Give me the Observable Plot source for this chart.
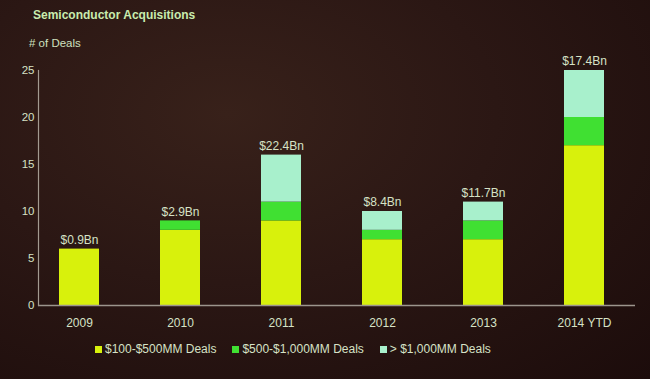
<!DOCTYPE html>
<html>
<head>
<meta charset="utf-8">
<script src="https://cdn.jsdelivr.net/npm/d3@7"></script>
<script src="https://cdn.jsdelivr.net/npm/@observablehq/plot@0.6"></script>
<style>
  html, body { margin: 0; padding: 0; }
  body {
    width: 650px; height: 379px; overflow: hidden; position: relative;
    background: radial-gradient(ellipse at 35% 30%, #38211a 0%, #2b1714 45%, #1c0c0b 100%);
    font-family: "Liberation Sans", Arial, sans-serif;
    color: #d6e2c6;
  }
  #title { position: absolute; left: 33px; top: 8px; font-size: 12px; font-weight: bold; color: #c9ecae; }
  #ylabel { position: absolute; left: 29px; top: 37px; font-size: 11.5px; color: #cfe0bf; }
  #chart { position: absolute; left: 0; top: 30px; }
  #legend { position: absolute; left: 95px; top: 342px; display: flex; font-size: 12px; color: #d6e2c6; }
  .item { display: flex; align-items: center; margin-right: 16px; }
  .sw { width: 7px; height: 7px; margin-right: 3px; }
</style>
</head>
<body>
<div id="title">Semiconductor Acquisitions</div>
<div id="ylabel"># of Deals</div>
<div id="chart"></div>
<div id="legend"></div>
<script>
const years = ["2009", "2010", "2011", "2012", "2013", "2014 YTD"];
const smallDeals = [6, 8, 9, 7, 7, 17];   // $100-$500MM
const midDeals = [0, 1, 2, 1, 2, 3];      // $500-$1,000MM
const largeDeals = [0, 0, 5, 2, 2, 5];    // > $1,000MM
const totalValue = ["$0.9Bn", "$2.9Bn", "$22.4Bn", "$8.4Bn", "$11.7Bn", "$17.4Bn"];
const categories = ["$100-$500MM Deals", "$500-$1,000MM Deals", "> $1,000MM Deals"];
const colors = ["#d8f10c", "#40e032", "#a8f0cc"];
const yTicks = [0, 5, 10, 15, 20, 25];

const series = [smallDeals, midDeals, largeDeals];
const rows = years.flatMap((yr, i) => categories.map((c, k) => ({year: yr, cat: c, n: series[k][i]})));
const totals = years.map((yr, i) => ({year: yr, total: smallDeals[i] + midDeals[i] + largeDeals[i], label: totalValue[i]}));

const textColor = "#d6e2c6";

const chart = Plot.plot({
  width: 650,
  height: 305,
  marginTop: 40,
  marginBottom: 30,
  marginLeft: 38,
  marginRight: 15,
  style: {background: "transparent", color: textColor, fontFamily: "Liberation Sans, Arial, sans-serif"},
  x: {domain: years, paddingInner: 0.6, paddingOuter: 0.13, insetLeft: 7, insetRight: 17, label: null},
  y: {domain: [0, 25], label: null},
  color: {domain: categories, range: colors},
  marks: [
    Plot.barY(rows, {x: "year", y: "n", fill: "cat"}),
    Plot.text(totals, {x: "year", y: "total", text: "label", dy: -9, fill: textColor, fontSize: 12}),
    Plot.frame({anchor: "left", stroke: "#a39a90", strokeWidth: 1.2}),
    Plot.ruleY([0], {stroke: "#9c958d", strokeWidth: 1.5}),
    Plot.axisY({ticks: yTicks, tickSize: 0, tickPadding: 4, fontSize: 11.5, fill: textColor, label: null}),
    Plot.axisX({tickSize: 0, tickPadding: 13, fontSize: 12, fill: textColor, label: null})
  ]
});
document.getElementById("chart").appendChild(chart);

const legend = document.getElementById("legend");
categories.forEach((c, k) => {
  const item = document.createElement("div");
  item.className = "item";
  const sw = document.createElement("span");
  sw.className = "sw";
  sw.style.background = colors[k];
  const t = document.createElement("span");
  t.textContent = c;
  item.appendChild(sw);
  item.appendChild(t);
  legend.appendChild(item);
});
</script>
</body>
</html>
